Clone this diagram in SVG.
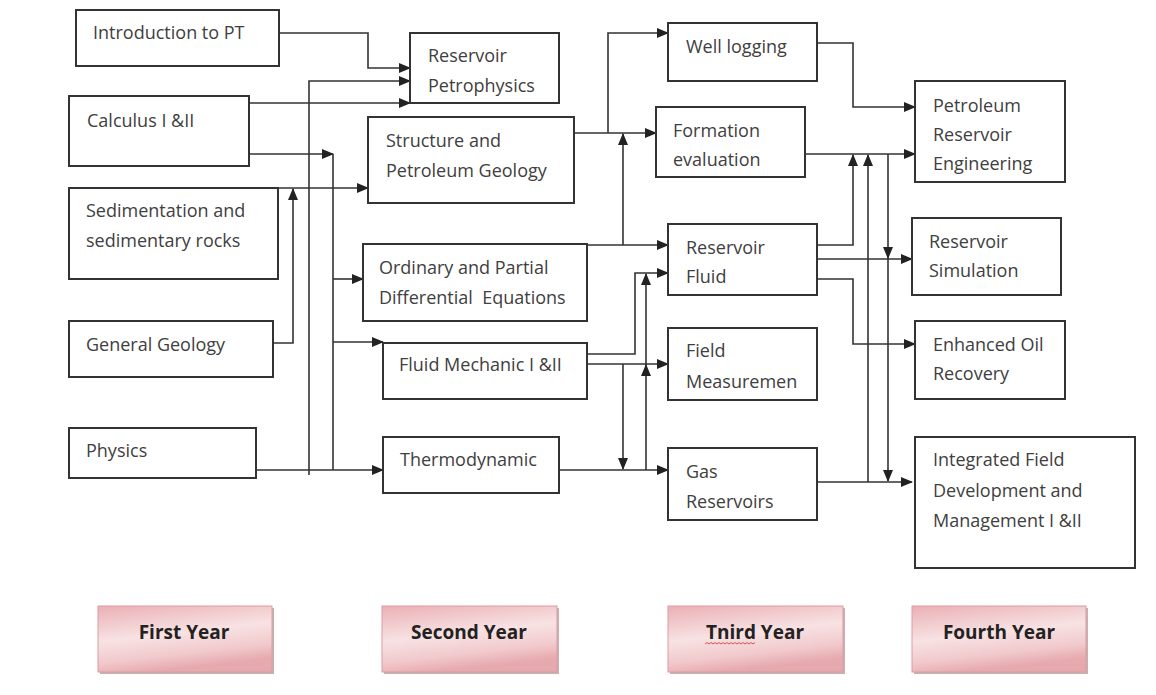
<svg xmlns="http://www.w3.org/2000/svg" width="1156" height="695" viewBox="0 0 1156 695">
<defs>
<style>
.box{fill:#fff;stroke:#333;stroke-width:2}
.t{font-family:"Open Sans","Liberation Sans",sans-serif;font-size:18px;fill:#404040}
.c{fill:none;stroke:#333;stroke-width:1.6}
.yr{stroke:#dc9ca2;stroke-width:1;fill:url(#pink)}
.sh{fill:#c9b0b2}
.yt{font-family:"Open Sans","Liberation Sans",sans-serif;font-size:19px;font-weight:bold;fill:#222;text-anchor:middle}
</style>
<marker id="a" markerUnits="userSpaceOnUse" markerWidth="12" markerHeight="10" refX="11" refY="5" orient="auto">
<path d="M0,0 L12,5 L0,10 Z" fill="#222"/>
</marker>
<linearGradient id="pink" x1="0" y1="0" x2="0.3" y2="1">
<stop offset="0" stop-color="#eab0b5"/>
<stop offset="0.5" stop-color="#f8e2e3"/>
<stop offset="0.8" stop-color="#f1c9cc"/>
<stop offset="1" stop-color="#e6a9ae"/>
</linearGradient>
</defs>
<rect width="1156" height="695" fill="#fff"/>

<g id="connectors">
<path class="c" d="M279,33 H368 V68 H410" marker-end="url(#a)"/>
<path class="c" d="M256,470 H383" marker-end="url(#a)"/>
<path class="c" d="M309,475 V81 H410" marker-end="url(#a)"/>
<path class="c" d="M249,103 H410" marker-end="url(#a)"/>
<path class="c" d="M249,154 H333" marker-end="url(#a)"/>
<path class="c" d="M333,154 V470"/>
<path class="c" d="M333,279 H363" marker-end="url(#a)"/>
<path class="c" d="M333,342 H383" marker-end="url(#a)"/>
<path class="c" d="M278,188 H368" marker-end="url(#a)"/>
<path class="c" d="M273,343 H293 V189" marker-end="url(#a)"/>
<path class="c" d="M574,133 H656" marker-end="url(#a)"/>
<path class="c" d="M608,133 V33 H668" marker-end="url(#a)"/>
<path class="c" d="M587,245 H668" marker-end="url(#a)"/>
<path class="c" d="M623,245 V134" marker-end="url(#a)"/>
<path class="c" d="M587,354 H635 V273 H668" marker-end="url(#a)"/>
<path class="c" d="M587,364 H668" marker-end="url(#a)"/>
<path class="c" d="M623,364 V469" marker-end="url(#a)"/>
<path class="c" d="M559,470 H668" marker-end="url(#a)"/>
<path class="c" d="M646,470 V365" marker-end="url(#a)"/>
<path class="c" d="M646,366 V274" marker-end="url(#a)"/>
<path class="c" d="M817,43 H853 V107 H915" marker-end="url(#a)"/>
<path class="c" d="M805,154 H915" marker-end="url(#a)"/>
<path class="c" d="M888,154 V258" marker-end="url(#a)"/>
<path class="c" d="M888,258 V481" marker-end="url(#a)"/>
<path class="c" d="M817,245 H853 V155" marker-end="url(#a)"/>
<path class="c" d="M817,482 H912" marker-end="url(#a)"/>
<path class="c" d="M868,482 V155" marker-end="url(#a)"/>
<path class="c" d="M817,259 H912" marker-end="url(#a)"/>
<path class="c" d="M817,279 H853 V344 H915" marker-end="url(#a)"/>
</g>

<g id="intro"><rect class="box" x="76" y="10" width="203" height="56"/><text class="t" x="93" y="39">Introduction to PT</text></g>
<g id="calculus"><rect class="box" x="69" y="96" width="180" height="70"/><text class="t" x="87" y="127">Calculus I &amp;II</text></g>
<g id="sedimentation"><rect class="box" x="69" y="188" width="209" height="91"/><text class="t" x="86" y="217">Sedimentation and</text><text class="t" x="86" y="247">sedimentary rocks</text></g>
<g id="general-geology"><rect class="box" x="69" y="321" width="204" height="56"/><text class="t" x="86" y="351">General Geology</text></g>
<g id="physics"><rect class="box" x="69" y="428" width="187" height="50"/><text class="t" x="86" y="457">Physics</text></g>

<g id="petrophysics"><rect class="box" x="410" y="33" width="149" height="70"/><text class="t" x="428" y="62">Reservoir</text><text class="t" x="428" y="92">Petrophysics</text></g>
<g id="structure"><rect class="box" x="368" y="117" width="206" height="86"/><text class="t" x="386" y="147">Structure and</text><text class="t" x="386" y="177">Petroleum Geology</text></g>
<g id="ode"><rect class="box" x="363" y="244" width="224" height="77"/><text class="t" x="379" y="274">Ordinary and Partial</text><text class="t" x="379" y="304" xml:space="preserve">Differential  Equations</text></g>
<g id="fluid-mechanic"><rect class="box" x="383" y="343" width="204" height="56"/><text class="t" x="399" y="371">Fluid Mechanic I &amp;II</text></g>
<g id="thermodynamic"><rect class="box" x="383" y="437" width="176" height="56"/><text class="t" x="400" y="466">Thermodynamic</text></g>

<g id="well-logging"><rect class="box" x="668" y="23" width="149" height="58"/><text class="t" x="686" y="53">Well logging</text></g>
<g id="formation"><rect class="box" x="656" y="107" width="149" height="70"/><text class="t" x="673" y="137">Formation</text><text class="t" x="673" y="166">evaluation</text></g>
<g id="reservoir-fluid"><rect class="box" x="668" y="224" width="149" height="71"/><text class="t" x="686" y="254">Reservoir</text><text class="t" x="686" y="283">Fluid</text></g>
<g id="field-measurement"><rect class="box" x="668" y="328" width="149" height="72"/><text class="t" x="686" y="357">Field</text><text class="t" x="686" y="388">Measuremen</text></g>
<g id="gas-reservoirs"><rect class="box" x="668" y="448" width="149" height="72"/><text class="t" x="686" y="478">Gas</text><text class="t" x="686" y="508">Reservoirs</text></g>

<g id="pre"><rect class="box" x="915" y="81" width="150" height="101"/><text class="t" x="933" y="112">Petroleum</text><text class="t" x="933" y="141">Reservoir</text><text class="t" x="933" y="170">Engineering</text></g>
<g id="simulation"><rect class="box" x="912" y="218" width="149" height="77"/><text class="t" x="929" y="248">Reservoir</text><text class="t" x="929" y="277">Simulation</text></g>
<g id="eor"><rect class="box" x="915" y="321" width="150" height="78"/><text class="t" x="933" y="351">Enhanced Oil</text><text class="t" x="933" y="380">Recovery</text></g>
<g id="integrated"><rect class="box" x="915" y="437" width="220" height="131"/><text class="t" x="933" y="466">Integrated Field</text><text class="t" x="933" y="497">Development and</text><text class="t" x="933" y="527">Management I &amp;II</text></g>

<g id="first-year"><rect class="sh" x="100" y="608" width="174" height="66"/><rect class="yr" x="98" y="606" width="174" height="66"/><text class="yt" x="184" y="639">First Year</text></g>
<g id="second-year"><rect class="sh" x="384" y="608" width="175" height="66"/><rect class="yr" x="382" y="606" width="175" height="66"/><text class="yt" x="469" y="639">Second Year</text></g>
<g id="third-year"><rect class="sh" x="670" y="608" width="175" height="66"/><rect class="yr" x="668" y="606" width="175" height="66"/><text class="yt" x="755" y="639">Tnird Year</text><path d="M705,644 l2,-1.5 l2,1.5 l2,-1.5 l2,1.5 l2,-1.5 l2,1.5 l2,-1.5 l2,1.5 l2,-1.5 l2,1.5 l2,-1.5 l2,1.5 l2,-1.5 l2,1.5 l2,-1.5 l2,1.5 l2,-1.5 l2,1.5 l2,-1.5 l2,1.5 l2,-1.5 l2,1.5 l2,-1.5 l2,1.5 l2,-1.5" fill="none" stroke="#d03030" stroke-width="0.8"/></g>
<g id="fourth-year"><rect class="sh" x="914" y="608" width="174" height="66"/><rect class="yr" x="912" y="606" width="174" height="66"/><text class="yt" x="999" y="639">Fourth Year</text></g>
</svg>
